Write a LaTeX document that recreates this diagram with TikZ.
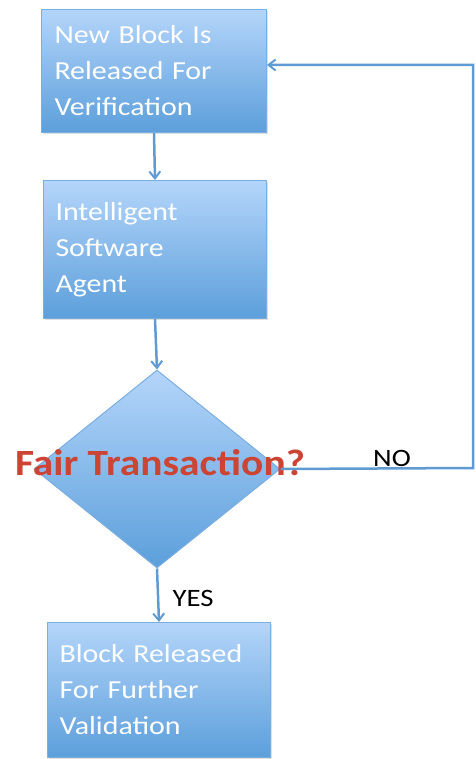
\documentclass[tikz,border=0pt]{standalone}
\usepackage{fontspec}
\setmainfont{Carlito}[FakeStretch=1.15, BoldFont={Carlito Bold}, BoldFeatures={FakeStretch=1.12}]
\usetikzlibrary{shapes.geometric,arrows.meta,shadows}
\definecolor{boxtop}{HTML}{B4D5FA}
\definecolor{boxbot}{HTML}{5C9FDB}
\definecolor{boxedge}{HTML}{7AAEE0}
\definecolor{lineblue}{HTML}{5F9BD2}
\definecolor{fairred}{HTML}{CC4433}
\tikzset{
  stepbox/.style={rectangle, draw=boxedge, line width=1pt, top color=boxtop, bottom color=boxbot,
    anchor=north west, minimum width=225pt, minimum height=123pt, text width=199pt,
    inner xsep=12pt, align=left, text=white,
    font=\fontsize{26pt}{36pt}\selectfont,
    drop shadow={shadow xshift=1.5pt, shadow yshift=-1.5pt, opacity=0.25}},
  decision/.style={diamond, draw=boxedge, line width=1pt, top color=boxtop, bottom color=boxbot,
    minimum width=246pt, minimum height=198pt, inner sep=0pt},
  conn/.style={draw=lineblue, line width=2.5pt, -{Straight Barb[length=7pt,width=11pt,line width=2pt]}},
  lbl/.style={font=\fontsize{25pt}{28pt}\selectfont, text=black, inner sep=0pt}
}
\begin{document}
\begin{tikzpicture}[x=1pt,y=-1pt]
\useasboundingbox (0,0) rectangle (475,759);
\node[stepbox, minimum height=123pt] (b1) at (41,9) {New Block Is\\Released For\\Verification};
\node[stepbox, minimum width=223pt, minimum height=138pt] (b2) at (43,180) {Intelligent\\Software\\Agent};
\node[decision] (d) at (157,469) {};
\node[stepbox, minimum width=223pt, minimum height=135pt] (b3) at (47,622) {Block Released\\For Further\\Validation};
\node[inner sep=0pt, font=\bfseries\fontsize{37pt}{42pt}\selectfont, text=fairred] (q) at (160,463)
  {Fair Transaction?};
\coordinate (c1) at (473,468);
\coordinate (c2) at (473,65);
\draw[conn] (b1.south) -- (b2.north);
\draw[conn] (b2.south) -- (d.north);
\draw[conn] (d.south) -- (b3.north);
\draw[conn] (d.east) -- (c1) -- (c2) -- (b1.east |- c2);
\node[lbl] (no) at (392,458) {NO};
\node[lbl] (yes) at (193,598) {YES};
\end{tikzpicture}
\end{document}
